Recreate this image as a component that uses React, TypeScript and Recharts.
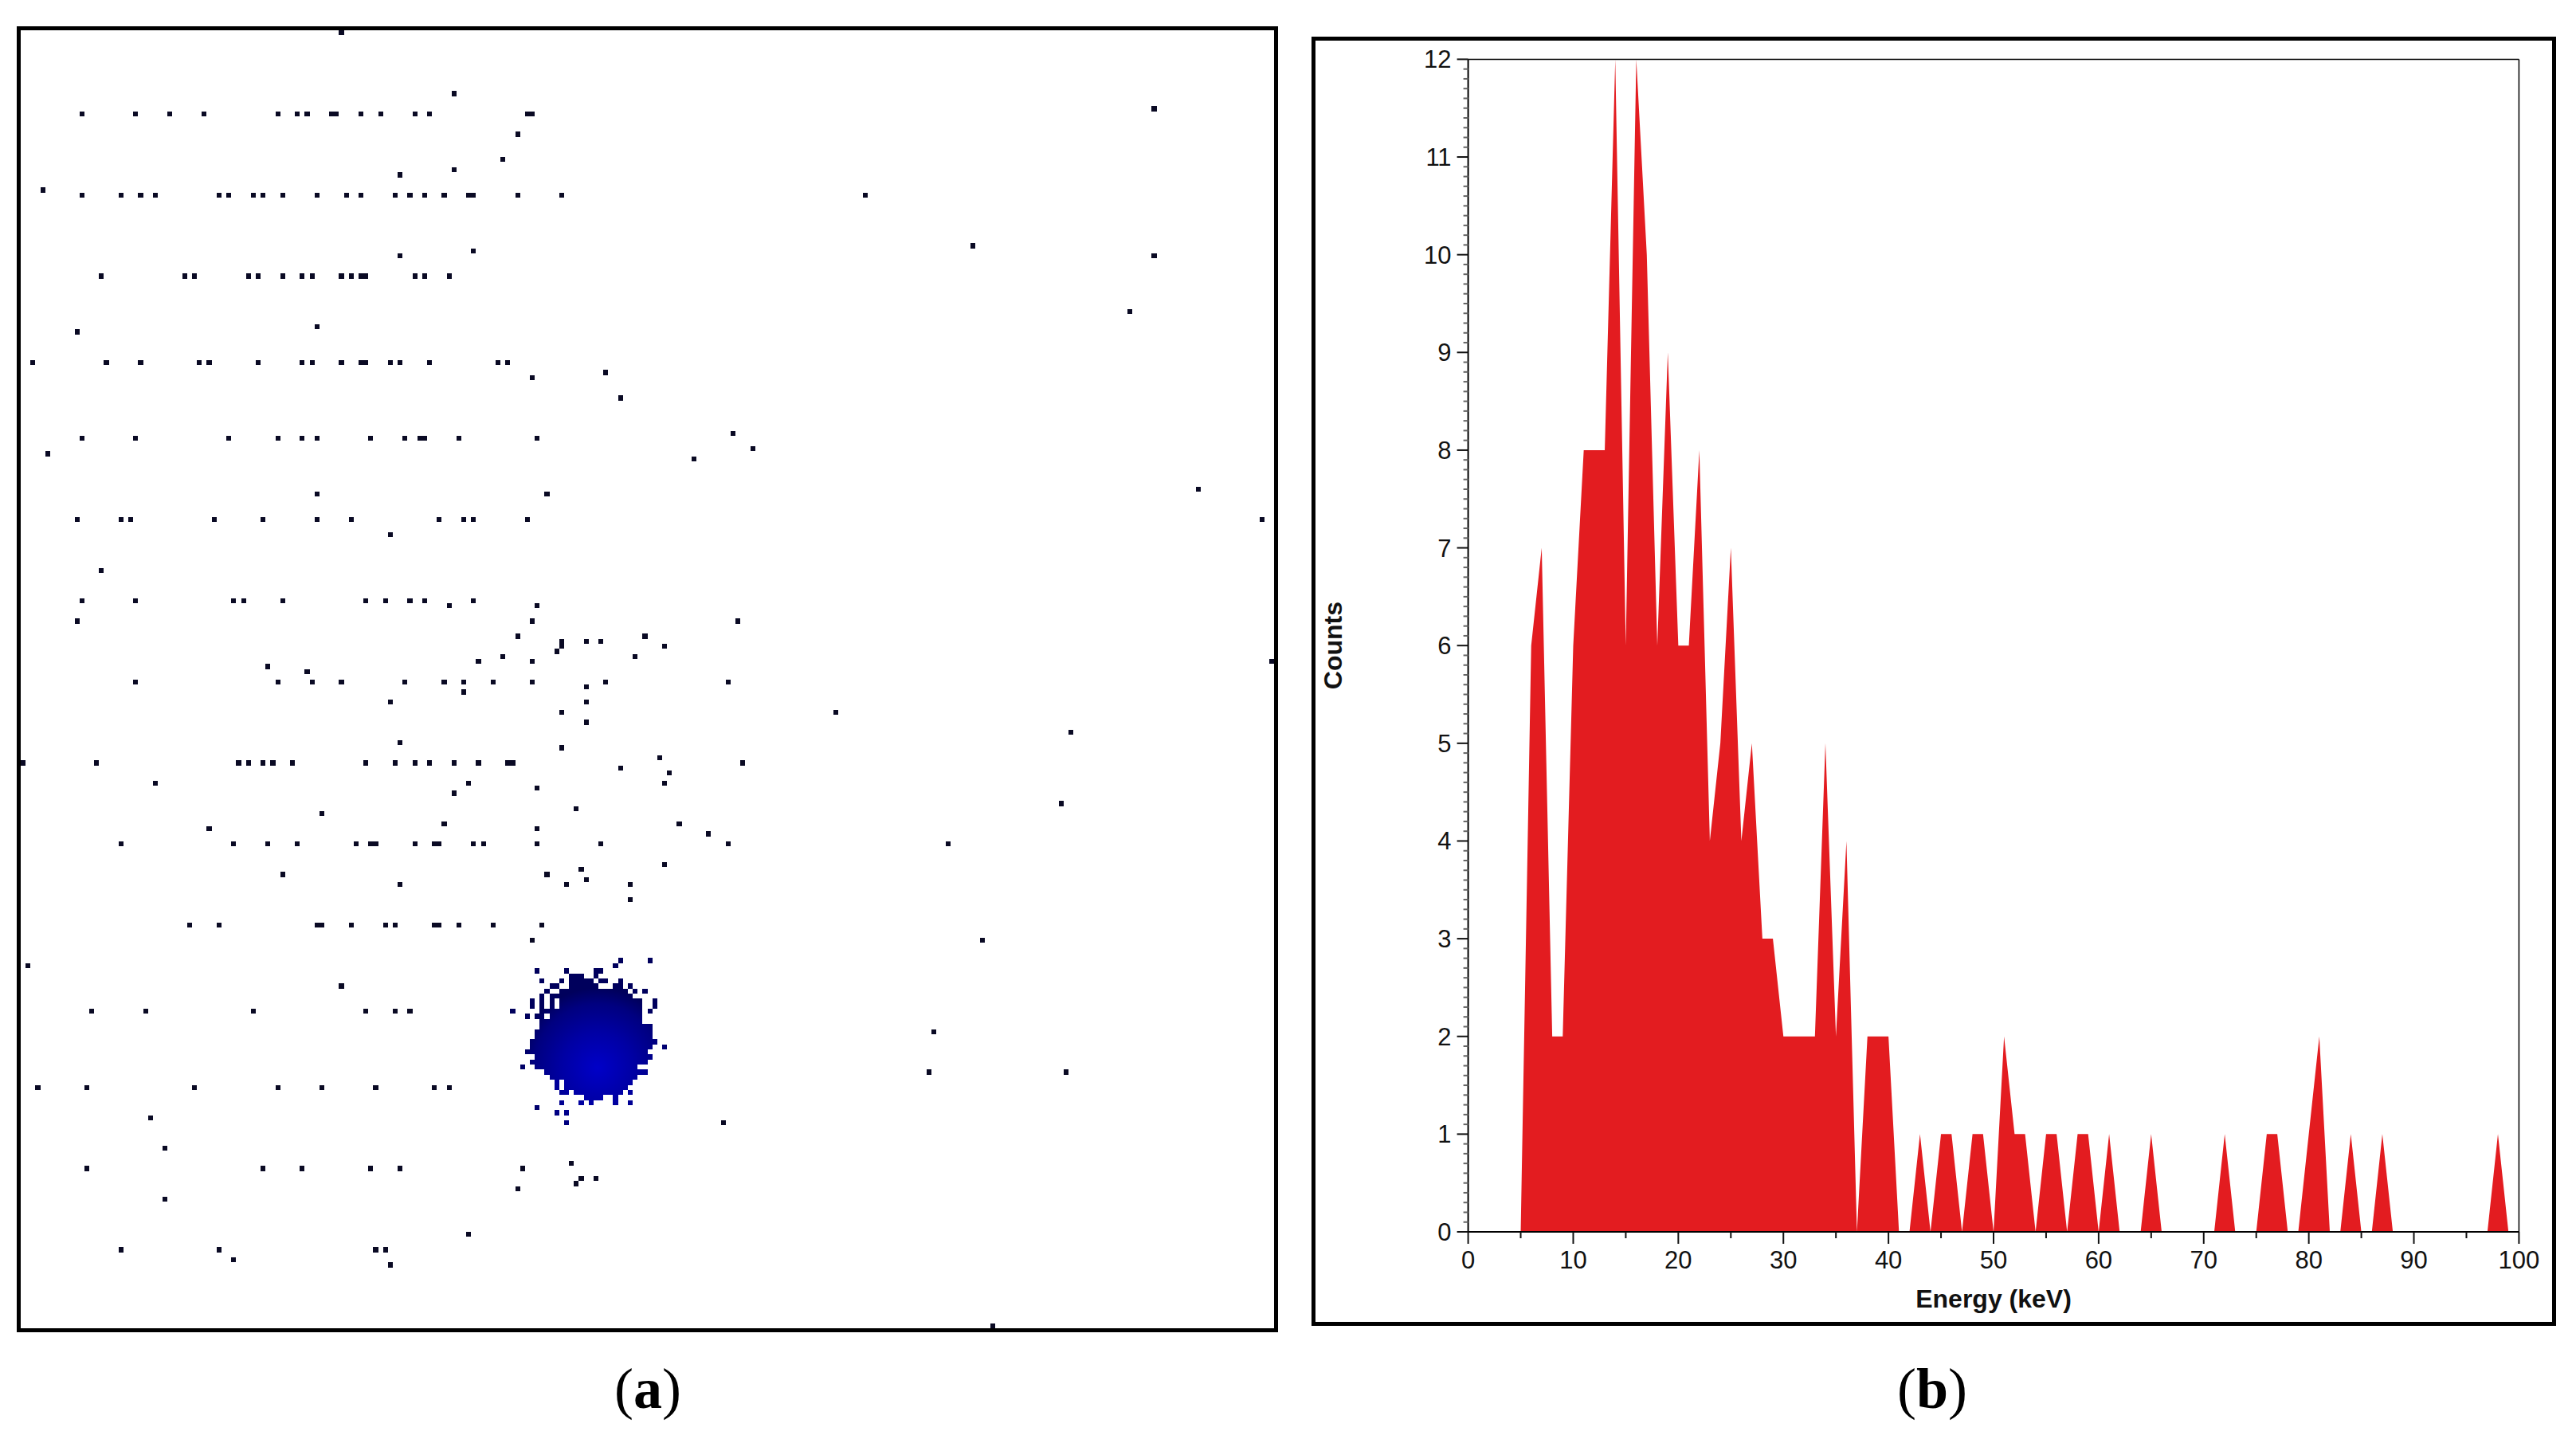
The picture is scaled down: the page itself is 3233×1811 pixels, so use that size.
import React from 'react';
import { AreaChart, Area, XAxis, YAxis, ReferenceLine, ScatterChart, Scatter, Label } from 'recharts';

// Panel (b): energy spectrum, one count per integer keV
const energyKeV = [
  0,1,2,3,4,5,6,7,8,9,10,11,12,13,14,15,16,17,18,19,20,21,22,23,24,25,26,27,28,29,30,31,32,33,34,35,36,37,38,39,40,
  41,42,43,44,45,46,47,48,49,50,51,52,53,54,55,56,57,58,59,60,61,62,63,64,65,66,67,68,69,70,71,72,73,74,75,76,77,78,79,80,
  81,82,83,84,85,86,87,88,89,90,91,92,93,94,95,96,97,98,99,100,
];
const counts = [
  0,0,0,0,0,0,6,7,2,2,6,8,8,8,12,6,12,10,6,9,6,6,8,4,5,7,4,5,3,3,2,2,2,2,5,2,4,0,2,2,2,
  0,0,1,0,1,1,0,1,1,0,2,1,1,0,1,1,0,1,1,0,1,0,0,0,1,0,0,0,0,0,0,1,0,0,0,1,1,0,0,1,
  2,0,0,1,0,0,1,0,0,0,0,0,0,0,0,0,0,1,0,0,
];
const xMajorTicks = [0,10,20,30,40,50,60,70,80,90,100];
const xMinorTicks = [5,15,25,35,45,55,65,75,85,95];
const yMajorTicks = [0,1,2,3,4,5,6,7,8,9,10,11,12];
const yMinorSteps = [0.1,0.2,0.3,0.4,0.5,0.6,0.7,0.8,0.9];

// Panel (a): hit pixels on the 256 x 256 detector, [row, columns]
const scatteredHits: [number, number[]][] = [
  [0,[65]],[12,[88]],[15,[231]],[16,[12,23,30,37,52,56,58,63,64,69,73,80,83,103,104]],[20,[101]],[25,[98]],[27,[88]],[28,[77]],[31,[4]],
  [32,[12,20,24,27,40,42,47,49,53,60,66,69,76,79,82,86,91,92,101,110,172]],[42,[194]],[43,[92]],[44,[77,231]],
  [48,[16,33,35,46,48,53,57,59,65,67,69,70,80,82,87]],[55,[226]],[58,[60]],[59,[11]],
  [65,[2,17,24,36,38,48,57,59,65,69,70,75,77,83,97,99]],[67,[119]],[68,[104]],[72,[122]],[79,[145]],
  [80,[12,23,42,52,57,60,71,78,81,82,89,105]],[82,[149]],[83,[5]],[84,[137]],[90,[240]],[91,[60,107]],
  [96,[11,20,22,39,49,60,67,85,90,92,103,253]],[99,[75]],[106,[16]],[112,[12,23,43,45,53,70,74,79,82,92]],[113,[87,105]],
  [116,[11,104,146]],[119,[101,127]],[120,[110,115,118]],[121,[110,131]],[122,[109]],[123,[98,125]],[124,[93,104,255]],
  [125,[50]],[126,[58]],[128,[23,52,59,65,78,86,90,96,104,119,144]],[129,[115]],[130,[90]],[132,[75,115]],[134,[110,166]],
  [136,[115]],[138,[214]],[140,[77]],[141,[110]],[143,[130]],[144,[0,15,44,46,49,51,55,70,76,80,83,88,93,99,100,147]],
  [145,[122]],[146,[132]],[148,[27,91,131]],[149,[105]],[150,[88]],[152,[212]],[153,[113]],[154,[61]],[156,[86,134]],
  [157,[38,105]],[158,[140]],[160,[20,43,50,56,68,71,72,80,84,85,92,94,105,118,144,189]],[164,[131]],[165,[114]],
  [166,[53,107]],[167,[115]],[168,[77,111,124]],[171,[124]],[176,[34,40,60,61,67,74,76,84,85,89,96,106]],[179,[104,196]],
  [184,[1]],[188,[65]],[193,[14,25,47,70,76,79]],[197,[186]],[205,[185,213]],[208,[3,13,35,52,61,72,84,87]],[214,[26]],
  [215,[143]],[220,[29]],[223,[112]],[224,[13,49,57,71,77,102]],[226,[114,117]],[227,[113]],[228,[101]],[230,[29]],
  [237,[91]],[240,[20,40,72,74]],[242,[43]],[243,[75]],[255,[198]],
];

// Panel (a): the beam spot, [row, [first column, last column], ...]
const spotRuns: [number, [number, number][]][] = [
  [183,[[122,122],[128,128]]],
  [184,[[121,121]]],
  [185,[[105,105],[111,111],[117,118]]],
  [186,[[112,114],[117,117]]],
  [187,[[106,106],[110,110],[112,116],[118,119],[122,122]]],
  [188,[[108,109],[112,117],[121,122],[124,124]]],
  [189,[[107,107],[110,123],[125,125],[127,127]]],
  [190,[[106,106],[108,124]]],
  [191,[[104,104],[106,106],[108,108],[110,126],[129,129]]],
  [192,[[104,104],[106,106],[108,108],[110,126],[129,129]]],
  [193,[[100,100],[106,126],[128,128]]],
  [194,[[103,103],[105,106],[108,126]]],
  [195,[[106,126]]],
  [196,[[106,128]]],
  [197,[[105,128]]],
  [198,[[105,128]]],
  [199,[[104,129]]],
  [200,[[104,128],[131,131]]],
  [201,[[103,127]]],
  [202,[[105,128]]],
  [203,[[104,127]]],
  [204,[[102,102],[105,125]]],
  [205,[[107,127]]],
  [206,[[108,125]]],
  [207,[[109,109],[111,124]]],
  [208,[[109,109],[111,123]]],
  [209,[[110,111],[113,122],[124,124]]],
  [210,[[115,118],[121,121]]],
  [211,[[110,110],[114,114],[116,116],[121,121],[124,124]]],
  [212,[[105,105]]],
  [213,[[109,109],[111,111]]],
  [215,[[111,111]]],
];

const spectrum = energyKeV.map((energy, i) => ({ energy, counts: counts[i] }));
const scatterCells = scatteredHits.flatMap(([row, cols]) => cols.map((col) => ({ col: col + 0.5, row: row + 0.5 })));
const spotCells = spotRuns.flatMap(([row, runs]) =>
  runs.flatMap(([a, b]) => {
    const out: { col: number; row: number }[] = [];
    for (let c = a; c <= b; c++) out.push({ col: c + 0.5, row: row + 0.5 });
    return out;
  })
);
const yTicks = yMajorTicks.flatMap((t) => (t < 12 ? [t, ...yMinorSteps.map((s) => Math.round((t + s) * 10) / 10)] : [t]));
const xTicks = [...xMajorTicks, ...xMinorTicks].sort((a, b) => a - b);

const AW = 1573;
const AH = 1629;
const CW = AW / 256;
const CH = AH / 256;

const sansFont = '"Liberation Sans", Arial, sans-serif';

const Cell = (props: any) => (
  <rect x={props.cx - CW / 2} y={props.cy - CH / 2} width={CW} height={CH} fill={props.fill} shapeRendering="crispEdges" />
);

const XTick = (props: any) => {
  const { x, y, payload } = props;
  const major = xMajorTicks.includes(payload.value);
  return (
    <g>
      <line x1={x} x2={x} y1={y} y2={y + (major ? 15 : 8)} stroke="#111" strokeWidth={2} />
      {major && (
        <text x={x} y={y + 46} textAnchor="middle" fontFamily={sansFont} fontSize={31} fill="#111">
          {payload.value}
        </text>
      )}
    </g>
  );
};

const YTick = (props: any) => {
  const { x, y, payload } = props;
  const major = yMajorTicks.includes(payload.value);
  return (
    <g>
      <line x1={x} x2={x - (major ? 14 : 6)} y1={y} y2={y} stroke={major ? '#111' : '#666'} strokeWidth={2} />
      {major && (
        <text x={x - 21} y={y + 11} textAnchor="end" fontFamily={sansFont} fontSize={31} fill="#111">
          {payload.value}
        </text>
      )}
    </g>
  );
};

const frame = (left: number, top: number, right: number, bottom: number): React.CSSProperties => ({
  position: 'absolute',
  left,
  top,
  width: right - left,
  height: bottom - top,
  border: '5px solid #000',
  boxSizing: 'border-box',
});

const caption = (cx: number): React.CSSProperties => ({
  position: 'absolute',
  left: cx - 100,
  top: 1693,
  width: 200,
  height: 100,
  lineHeight: '100px',
  textAlign: 'center',
  fontFamily: '"Liberation Serif", serif',
  fontSize: 72,
  color: '#000',
});

export default function App() {
  return (
    <div style={{ position: 'absolute', left: 0, top: 0, width: 3233, height: 1811, background: '#fff', overflow: 'hidden' }}>
      <div style={frame(21, 33, 1604, 1672)} />
      <div style={{ position: 'absolute', left: 26, top: 38 }}>
        <ScatterChart width={AW} height={AH} margin={{ top: 0, right: 0, bottom: 0, left: 0 }}>
          <defs>
            <radialGradient id="spotGrad" gradientUnits="userSpaceOnUse" cx={724} cy={1302} r={100}>
              <stop offset="0" stopColor="#0000c8" />
              <stop offset="0.45" stopColor="#0000a4" />
              <stop offset="0.8" stopColor="#000080" />
              <stop offset="1" stopColor="#00005c" />
            </radialGradient>
          </defs>
          <XAxis type="number" dataKey="col" domain={[0, 256]} hide />
          <YAxis type="number" dataKey="row" domain={[0, 256]} reversed hide />
          <Scatter data={scatterCells} fill="#0a0a24" shape={Cell} isAnimationActive={false} />
          <Scatter data={spotCells} fill="url(#spotGrad)" shape={Cell} isAnimationActive={false} />
        </ScatterChart>
      </div>
      <div style={caption(813)}>
        (<b>a</b>)
      </div>

      <div style={frame(1646, 46, 3208, 1664)} />
      <div style={{ position: 'absolute', left: 1651, top: 51 }}>
        <AreaChart
          width={1552}
          height={1608}
          data={spectrum}
          margin={{ top: 23.4, right: 41.6, bottom: 0, left: 0 }}
        >
          <XAxis
            type="number"
            dataKey="energy"
            domain={[0, 100]}
            ticks={xTicks}
            interval={0}
            height={113}
            tickSize={0}
            tickMargin={0}
            tickLine={false}
            tick={XTick}
            axisLine={{ stroke: '#000', strokeWidth: 2 }}
          >
            <Label
              value="Energy (keV)"
              position="insideBottom"
              offset={18}
              fontFamily={sansFont}
              fontWeight="bold"
              fontSize={32}
              fill="#111"
            />
          </XAxis>
          <YAxis
            type="number"
            domain={[0, 12]}
            ticks={yTicks}
            interval={0}
            width={191.6}
            tickSize={0}
            tickMargin={0}
            tickLine={false}
            tick={YTick}
            axisLine={{ stroke: '#000', strokeWidth: 2 }}
          >
            <Label
              value="Counts"
              angle={-90}
              position="insideLeft"
              offset={22}
              dy={55}
              fontFamily={sansFont}
              fontWeight="bold"
              fontSize={32}
              fill="#111"
            />
          </YAxis>
          <Area
            type="linear"
            dataKey="counts"
            stroke="none"
            fill="#e31c20"
            fillOpacity={1}
            isAnimationActive={false}
            dot={false}
            activeDot={false}
          />
          <ReferenceLine y={12} stroke="#000" strokeWidth={1.5} />
          <ReferenceLine x={100} stroke="#000" strokeWidth={1.5} />
        </AreaChart>
      </div>
      <div style={caption(2425)}>
        (<b>b</b>)
      </div>
    </div>
  );
}
